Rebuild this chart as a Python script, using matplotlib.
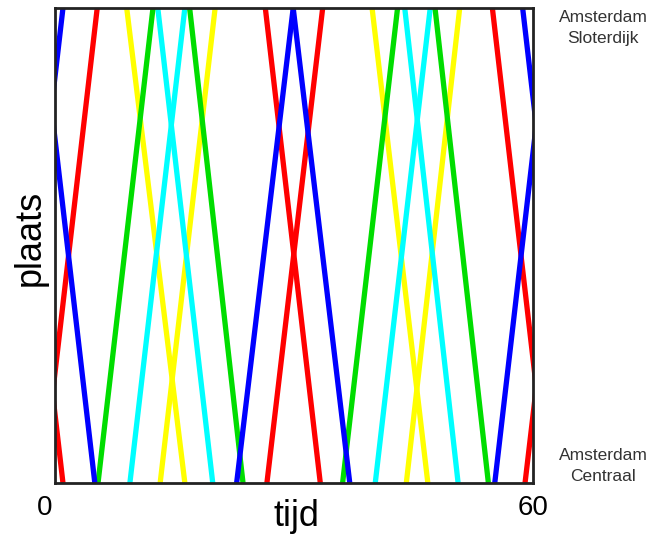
import matplotlib
matplotlib.use("Agg")
import matplotlib.pyplot as plt

# ---------------------------------------------------------------------------
# DATA  (times in minutes; each pair = departure, arrival)
# down = Sloterdijk -> Centraal, up = Centraal -> Sloterdijk
# ---------------------------------------------------------------------------
red_down    = [(-5.9, 1.0), (26.4, 33.3), (54.9, 61.8)]
red_up      = [(-1.6, 5.3), (26.6, 33.6), (59.0, 66.0)]
blue_down   = [(-1.9, 5.0), (29.9, 37.0), (58.7, 65.6)]
blue_up     = [(-5.9, 1.0), (22.8, 29.9), (55.2, 62.1)]
green_down  = [(16.9, 23.6), (47.7, 54.4)]
green_up    = [(5.4, 12.3), (36.1, 43.0)]
cyan_down   = [(12.9, 19.8), (43.9, 50.6)]
cyan_up     = [(9.4, 16.3), (40.2, 47.1)]
yellow_down = [(9.0, 16.3), (39.8, 46.8)]
yellow_up   = [(13.2, 20.1), (44.1, 50.8)]

SERVICES = [
    ("#ffff00", yellow_down, yellow_up),
    ("#00ffff", cyan_down, cyan_up),
    ("#00dd00", green_down, green_up),
    ("#ff0000", red_down, red_up),
    ("#0000ff", blue_down, blue_up),
]

plt.rcParams["font.family"] = ["Liberation Sans", "DejaVu Sans"]

fig = plt.figure(figsize=(6.62, 5.37), dpi=100)
ax = fig.add_axes([55 / 662, 1 - 483 / 537, 478 / 662, 475 / 537])

for color, downs, ups in SERVICES:
    for t0, t1 in downs:
        ax.plot([t0, t1], [1, 0], color=color, lw=3.8, solid_capstyle="butt")
    for t0, t1 in ups:
        ax.plot([t0, t1], [0, 1], color=color, lw=3.8, solid_capstyle="butt")

ax.set_xlim(0, 60)
ax.set_ylim(0, 1)
ax.set_xticks([])
ax.set_yticks([])
for sp in ax.spines.values():
    sp.set_linewidth(2.0)
    sp.set_color("#222222")
    sp.set_zorder(5)

# axis end labels and titles
fig.text(45 / 662, 1 - 508 / 537, "0", ha="center", va="center", fontsize=20)
fig.text(533 / 662, 1 - 508 / 537, "60", ha="center", va="center", fontsize=20)
fig.text(296 / 662, 1 - 517 / 537, "tijd", ha="center", va="center", fontsize=26)
fig.text(30 / 662, 1 - 238 / 537, "plaats", rotation=90, ha="center", va="center", fontsize=26)

# station names
for y_px, label in ((28, "Amsterdam\nSloterdijk"), (466, "Amsterdam\nCentraal")):
    fig.text(603 / 662, 1 - y_px / 537, label, ha="center", va="center",
             fontsize=12.5, color="#333333", linespacing=1.5)

fig.savefig("out.png", dpi=100)
